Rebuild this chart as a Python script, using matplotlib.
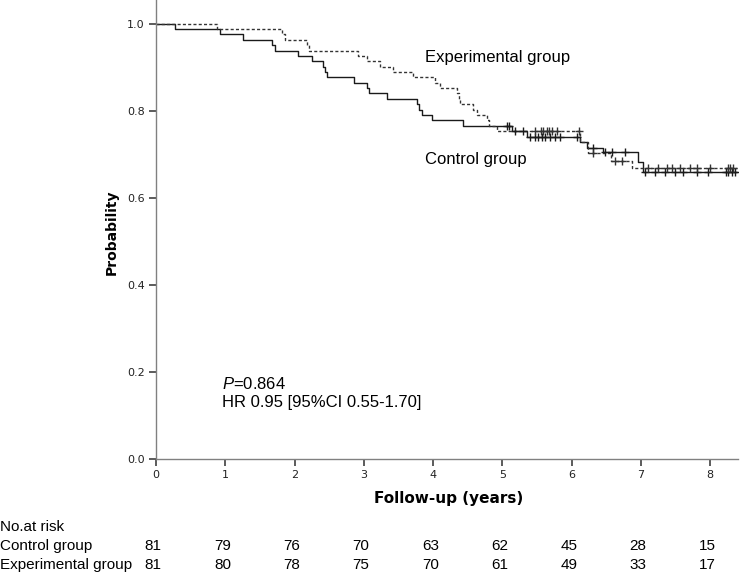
import numpy as np
import matplotlib
matplotlib.use("Agg")
import matplotlib.pyplot as plt
import matplotlib.transforms as mtransforms

# ============================================================
# DATA
# ============================================================

ctrl_t = [0, 0.27, 0.92, 1.26, 1.68, 1.72, 2.05, 2.25, 2.41, 2.44, 2.47, 2.86,
          3.05, 3.08, 3.34, 3.77, 3.80, 3.84, 3.99, 4.43, 5.14, 5.36, 6.12,
          6.22, 6.45, 6.95, 7.03]
ctrl_s = [1.0, 0.988, 0.975, 0.963, 0.951, 0.938, 0.926, 0.914, 0.901, 0.889,
          0.877, 0.864, 0.852, 0.840, 0.827, 0.815, 0.802, 0.790, 0.778, 0.765,
          0.753, 0.740, 0.727, 0.715, 0.705, 0.682, 0.658]
ctrl_cens = [5.07, 5.10, 5.18, 5.30, 5.40, 5.47, 5.52, 5.57, 5.62, 5.69, 5.76,
             5.83, 6.08, 6.31, 6.48, 6.58, 6.77, 7.06, 7.20, 7.35, 7.49, 7.60,
             7.81, 7.96, 8.22, 8.26, 8.32, 8.36]

exp_t = [0, 0.88, 1.82, 1.86, 2.18, 2.21, 2.92, 3.05, 3.23, 3.42, 3.71, 4.03,
         4.10, 4.35, 4.37, 4.39, 4.58, 4.64, 4.78, 4.80, 4.92, 6.12, 6.24,
         6.56, 6.87]
exp_s = [1.0, 0.988, 0.975, 0.963, 0.951, 0.938, 0.926, 0.914, 0.901, 0.889,
         0.877, 0.864, 0.852, 0.840, 0.827, 0.815, 0.802, 0.790, 0.778, 0.765,
         0.753, 0.728, 0.703, 0.685, 0.668]
exp_cens = [5.47, 5.55, 5.59, 5.65, 5.67, 5.72, 5.79, 6.10, 6.30, 6.63, 6.73,
            7.10, 7.25, 7.38, 7.45, 7.57, 7.71, 7.81, 8.00, 8.25, 8.29, 8.33]

END_TIME = 8.38

risk_times = [0, 1, 2, 3, 4, 5, 6, 7, 8]
risk_ctrl = [81, 79, 76, 70, 63, 62, 45, 28, 15]
risk_exp = [81, 80, 78, 75, 70, 61, 49, 33, 17]

# ============================================================
# STYLE
# ============================================================

plt.rcParams['mathtext.fontset'] = 'custom'
plt.rcParams['mathtext.rm'] = 'Liberation Sans'
plt.rcParams['mathtext.it'] = 'Liberation Sans:italic'

SANS = ['Liberation Sans', 'DejaVu Sans']


def surv_at(times, surv, t):
    idx = np.searchsorted(times, t, side='right') - 1
    return np.asarray(surv)[idx]


fig = plt.figure(figsize=(7.42, 5.72), dpi=100)
ax = fig.add_axes([156 / 742, 1 - 459 / 572, (738 - 156) / 742, 459 / 572])

# ============================================================
# CURVES
# ============================================================

ax.step(ctrl_t + [END_TIME], ctrl_s + [ctrl_s[-1]], where='post',
        color='#1a1a1a', lw=1.0)
ax.step(exp_t + [END_TIME], exp_s + [exp_s[-1]], where='post',
        color='#333333', lw=1.0, linestyle=(0, (2.2, 1.6)))

ax.plot(ctrl_cens, surv_at(ctrl_t, ctrl_s, ctrl_cens), '+',
        color='#1a1a1a', ms=6, mew=1.0)
ax.plot(exp_cens, surv_at(exp_t, exp_s, exp_cens), '+',
        color='#333333', ms=6, mew=1.0)

# ============================================================
# AXES
# ============================================================

ax.set_xlim(0, 8.4)
ax.set_ylim(0, 1.054)
ax.set_xticks(risk_times)
ax.set_yticks([0.0, 0.2, 0.4, 0.6, 0.8, 1.0])
ax.set_yticklabels(["0.0", "0.2", "0.4", "0.6", "0.8", "1.0"])
for side in ['top', 'right']:
    ax.spines[side].set_visible(False)
for side in ['left', 'bottom']:
    ax.spines[side].set_color('#808080')
    ax.spines[side].set_linewidth(1.0)
ax.tick_params(direction='out', length=5, width=1.2, color='#404040',
               labelsize=8, labelcolor='#222222', pad=3)

fig.text(112 / 742, 1 - 232 / 572, "Probability", rotation=90,
         ha='center', va='center', fontsize=10, fontweight='bold')
fig.text(449 / 742, 1 - 499 / 572, "Follow-up (years)",
         ha='center', va='center', fontsize=11, fontweight='bold')

# ============================================================
# ANNOTATIONS
# ============================================================

ax.text(3.88, 0.923, "Experimental group", family=SANS, fontsize=12,
        va='center', ha='left')
ax.text(3.88, 0.687, "Control group", family=SANS, fontsize=12,
        va='center', ha='left')
ax.text(0.95, 0.172, r"$P$=0.864", family=SANS, fontsize=12,
        va='center', ha='left')
ax.text(0.95, 0.129, "HR 0.95 [95%CI 0.55-1.70]", family=SANS, fontsize=12,
        va='center', ha='left')

# ============================================================
# NUMBER AT RISK TABLE
# ============================================================

trans = mtransforms.blended_transform_factory(ax.transData, fig.transFigure)

fig.text(0.0, 1 - 527 / 572, "No.at risk", family=SANS, fontsize=11,
         va='center', ha='left')
fig.text(0.0, 1 - 546 / 572, "Control group", family=SANS, fontsize=11,
         va='center', ha='left')
fig.text(0.0, 1 - 565 / 572, "Experimental group", family=SANS,
         fontsize=11, va='center', ha='left')

for t, n1, n2 in zip(risk_times, risk_ctrl, risk_exp):
    ax.text(t - 0.04, 1 - 546 / 572, str(n1), transform=trans, family=SANS,
            fontsize=11, va='center', ha='center')
    ax.text(t - 0.04, 1 - 565 / 572, str(n2), transform=trans, family=SANS,
            fontsize=11, va='center', ha='center')

fig.savefig("out.png", dpi=100)
